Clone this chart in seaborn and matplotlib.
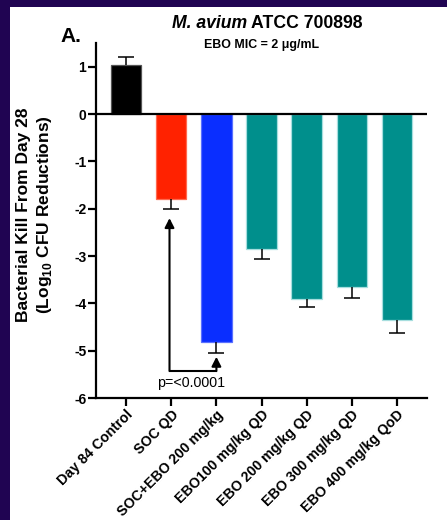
import numpy as np
import matplotlib
matplotlib.use("Agg")
import matplotlib.pyplot as plt
import matplotlib.patches as mpatches
import seaborn as sns

# Treatment groups and their mean log10 CFU change from day 28, with SD
groups = ["Day 84 Control", "SOC QD", "SOC+EBO 200 mg/kg", "EBO100 mg/kg QD",
          "EBO 200 mg/kg QD", "EBO 300 mg/kg QD", "EBO 400 mg/kg QoD"]
kill = [1.04, -1.80, -4.82, -2.85, -3.91, -3.65, -4.36]
sd = [0.16, 0.21, 0.22, 0.21, 0.17, 0.24, 0.27]
bar_colors = ["#000000", "#ff2200", "#0a2eff", "#008f8c", "#008f8c", "#008f8c", "#008f8c"]
edge_colors = ["#555555", "#ff6a50", "#5a70ff", "#a6dede", "#a6dede", "#a6dede", "#a6dede"]
y_ticks = [1, 0, -1, -2, -3, -4, -5, -6]
p_label = "p=<0.0001"

sns.set_style("ticks")
plt.rcParams["font.family"] = ["Liberation Sans", "DejaVu Sans"]
plt.rcParams["mathtext.fontset"] = "custom"
plt.rcParams["mathtext.rm"] = "Liberation Sans"
plt.rcParams["mathtext.bf"] = "Liberation Sans:bold"
for key in ("text.color", "axes.labelcolor", "xtick.color", "ytick.color", "axes.edgecolor"):
    plt.rcParams[key] = "black"

fig = plt.figure(figsize=(4.47, 5.20), dpi=100, facecolor="#200452")
# white slide panel
fig.patches.append(mpatches.Rectangle((10 / 447, 0), 437 / 447, 513 / 520,
                                      transform=fig.transFigure, facecolor="white",
                                      edgecolor="none", zorder=-1))

ax = fig.add_axes([96 / 447, 1 - 398 / 520, 331 / 447, 355 / 520])
ax.set_zorder(2)
ax.set_facecolor("none")

sns.barplot(x=groups, y=kill, hue=groups, palette=bar_colors, legend=False,
            width=0.67, saturation=1, ax=ax, zorder=2)
for patch, ec in zip(ax.patches, edge_colors):
    patch.set_edgecolor(ec)
    patch.set_linewidth(0.9)

# one-sided SD bars pointing away from zero
xpos = np.arange(len(groups))
kill_arr = np.array(kill)
sd_arr = np.array(sd)
tips = kill_arr + np.sign(kill_arr) * sd_arr
ax.vlines(xpos, kill_arr, tips, color="black", lw=1.1, zorder=3)
ax.plot(xpos, tips, ls="none", marker="_", markersize=12, markeredgewidth=1.1,
        color="black", zorder=3)

ax.axhline(0, color="black", lw=1.6, zorder=4)

# comparison bracket between SOC and SOC+EBO
y_bracket = -5.43
ax.plot([0.96, 2.0], [y_bracket, y_bracket], color="black", lw=1.5,
        solid_capstyle="projecting", zorder=3)
arrow_kw = dict(arrowstyle="-|>,head_width=0.28,head_length=0.55", color="black",
                lw=1.5, shrinkA=0, shrinkB=0)
ax.annotate("", xy=(0.96, -2.2), xytext=(0.96, y_bracket), arrowprops=arrow_kw, zorder=3)
ax.annotate("", xy=(2.0, -5.13), xytext=(2.0, y_bracket), arrowprops=arrow_kw, zorder=3)
ax.text(1.45, -5.68, p_label, ha="center", va="center", fontsize=10.3)

ax.set_xlim(-0.67, 6.67)
ax.set_ylim(-6, 1.5)
ax.set_yticks(y_ticks)
ax.set_yticklabels([str(t) for t in y_ticks], fontsize=10, fontweight="bold")
ax.set_xticks(xpos)
ax.set_xticklabels(groups, rotation=45, ha="right", rotation_mode="anchor",
                   fontsize=10.2, fontweight="bold")
ax.set_xlabel("")
sns.despine(ax=ax)
for side in ("left", "bottom"):
    ax.spines[side].set_linewidth(1.6)
ax.tick_params(axis="both", width=1.6, length=5.5, color="black", pad=1.5)

ax.set_ylabel("Bacterial Kill From Day 28\n(Log$_{\\mathbf{10}}$ CFU Reductions)",
              fontsize=12.5, fontweight="bold", linespacing=1.25)
ax.yaxis.label.set_va("center")
ax.yaxis.set_label_coords((35 - 96) / 331, (398 - 215) / 355)

# titles
fig.text(247 / 447, 1 - 28.3 / 520, "M. avium", ha="right", va="baseline",
         fontsize=12.7, fontweight="bold", fontstyle="italic")
fig.text(251 / 447, 1 - 28.3 / 520, "ATCC 700898", ha="left", va="baseline",
         fontsize=12.7, fontweight="bold")
fig.text(261.7 / 447, 1 - 48 / 520, "EBO MIC = 2 μg/mL", ha="center", va="baseline",
         fontsize=8.9, fontweight="bold")
fig.text(60 / 447, 1 - 41.7 / 520, "A.", ha="left", va="baseline",
         fontsize=15, fontweight="bold")

fig.savefig("out.png", dpi=100, facecolor=fig.get_facecolor())
